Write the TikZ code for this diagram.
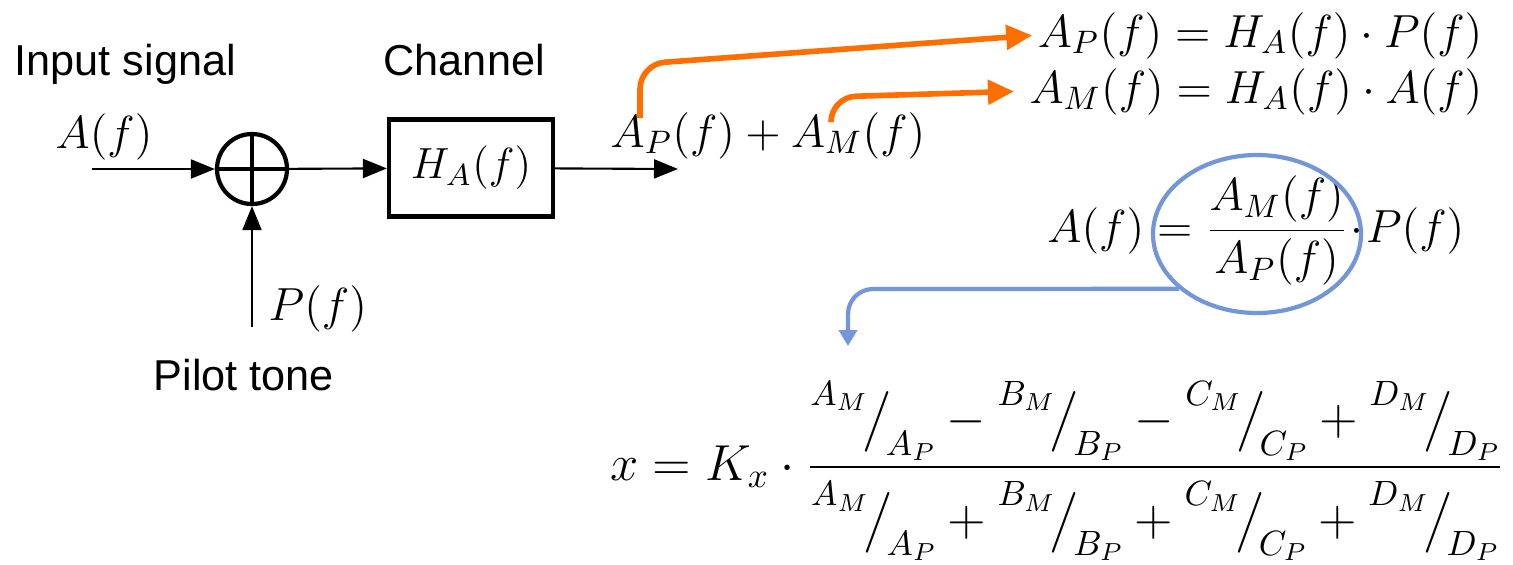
\RequirePackage{fix-cm}
\documentclass[tikz,border=0pt]{standalone}
\usepackage{amsmath}
\usepackage{fontspec}
\newfontfamily\lblfont{Liberation Sans}
\usetikzlibrary{arrows.meta,positioning,shapes.geometric}

\definecolor{hintorange}{RGB}{255,111,0}
\definecolor{hintblue}{RGB}{114,150,216}

% slanted ratio A_M / A_P
\newcommand{\skw}[2]{\mathord{\raisebox{0.58em}{$\scriptstyle #1$}\mkern-2mu\big/\mkern-2mu\raisebox{-0.4em}{$\scriptstyle #2$}}}

\begin{document}
\begin{tikzpicture}[
  x=0.1mm, y=-0.1mm,
  lbl/.style={font=\lblfont\fontsize{12.3}{15}\selectfont, inner sep=0pt},
  eq/.style={font=\fontsize{13.2}{16}\selectfont, inner sep=0pt},
  bigeq/.style={font=\fontsize{14.4}{18}\selectfont, inner sep=0pt},
  blk/.style={rectangle, draw, line width=1.2pt, minimum width=16.4mm,
              minimum height=9.7mm, font=\fontsize{12.4}{15}\selectfont},
  adder/.style={circle, draw, line width=1.2pt, minimum size=7mm, inner sep=0pt},
  sig/.style={-{Triangle[length=2.4mm,width=1.9mm]}, line width=0.6pt},
  hint/.style={-{Triangle[length=2.6mm,width=2.4mm]}, line width=1.6pt,
               hintorange, rounded corners=2.5mm},
  back/.style={-{Triangle[length=1.6mm,width=1.8mm]}, line width=1.2pt,
               hintblue, rounded corners=2.5mm},
]
  \useasboundingbox (0,0) rectangle (1513,564);

  % Labels
  \node[lbl, anchor=base west] (insig) at (14,75) {Input signal};
  \node[lbl, anchor=base west] (chlbl) at (383,75) {Channel};
  \node[lbl, anchor=base west] (pltone) at (153,390) {Pilot tone};

  % Blocks
  \node[adder] (sum) at (252,169) {};
  \draw[line width=1.2pt] (sum.north) -- (sum.south) (sum.west) -- (sum.east);
  \node[blk] (chan) at (471,168) {$H_A(f)$};

  % Signals
  \node[eq, anchor=base west] (ain) at (55,148) {$A(f)$};
  \node[eq, anchor=base west] (pf) at (268,320) {$P(f)$};
  \node[eq, anchor=base west] (rx) at (610,147) {$A_P(f) + A_M(f)$};
  \coordinate (in) at (92,169);
  \coordinate (out) at (678,169);
  \coordinate (pil) at (252,327);
  \draw[sig] (in) -- (sum);
  \draw[sig] (sum) -- (chan);
  \draw[sig] (chan) -- (out);
  \draw[sig] (pil) -- (sum);

  % Equations
  \node[eq, anchor=base east] (eqp) at (1483,47) {$A_P(f) = H_A(f)\cdot P(f)$};
  \node[eq, anchor=base east] (eqm) at (1483,103) {$A_M(f) = H_A(f)\cdot A(f)$};
  \node[eq, anchor=base east] (eqa) at (1465,242)
    {$A(f) = \dfrac{A_M(f)}{A_P(f)}\!\cdot\! P(f)$};
  \node[bigeq, anchor=base east] (eqx) at (1505,480)
    {$x = K_x\cdot\dfrac{\skw{A_M}{A_P} - \skw{B_M}{B_P} - \skw{C_M}{C_P} + \skw{D_M}{D_P}}
                        {\rule{0pt}{1.2em}\skw{A_M}{A_P} + \skw{B_M}{B_P} + \skw{C_M}{C_P} + \skw{D_M}{D_P}}$};

  % Highlight
  \node[ellipse, draw=hintblue, line width=1.2pt, minimum width=20.8mm,
        minimum height=15.8mm] (circ) at (1257,234) {};

  % Hints
  \coordinate (apsrc) at (640,118);
  \coordinate (amsrc) at (831,122);
  \coordinate (tip) at (848,346);
  \draw[hint] (apsrc) -- (640,64) -- ([xshift=-0.5mm]eqp.west);
  \draw[hint] (amsrc) -- (831,97) -- ([xshift=-1.5mm]eqm.west);
  \draw[back] (circ.215) -- (848,289) -- (tip);

\end{tikzpicture}
\end{document}
